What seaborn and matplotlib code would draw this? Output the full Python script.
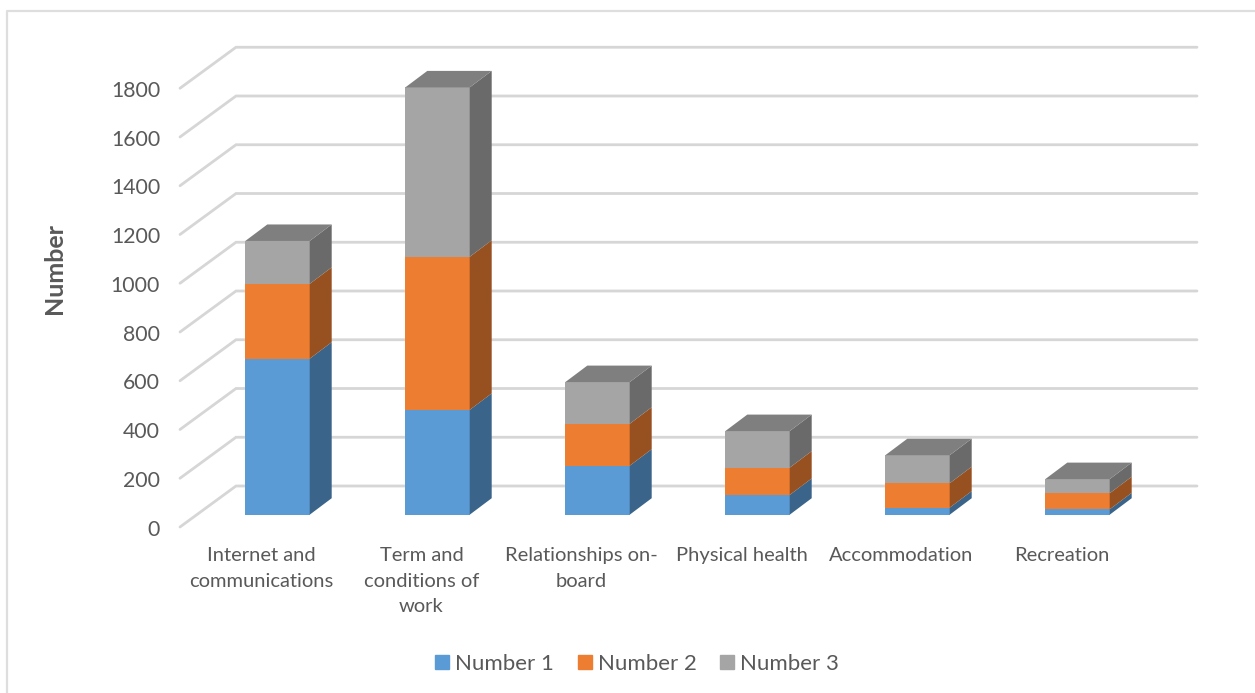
import seaborn as sns
import matplotlib.pyplot as plt
import matplotlib.transforms as mtrans
from matplotlib.lines import Line2D
from matplotlib.patches import Patch
import pandas as pd

categories = ['Internet and\ncommunications', 'Term and\nconditions of\nwork', 'Relationships on-\nboard',
              'Physical health', 'Accommodation', 'Recreation']
number1 = [640, 430, 201, 81, 29, 22]
number2 = [307, 628, 172, 112, 100, 66]
number3 = [176, 695, 171, 150, 115, 58]
yticks = [0, 200, 400, 600, 800, 1000, 1200, 1400, 1600, 1800]

# pixel scale of the picture
W, H = 1255, 693
PX_CAT = 160.0
PX_VAL = 0.24375
X0, Y0 = 277.5, 514.7

sns.set_theme(style='white')
plt.rcParams['font.family'] = ['Lato', 'DejaVu Sans']

df = pd.DataFrame({'cat': categories, 'Number 1': number1, 'Number 2': number2, 'Number 3': number3})
names = ['Number 1', 'Number 2', 'Number 3']
front = ['#5B9BD5', '#ED7D31', '#A5A5A5']
side = ['#3A6489', '#97501F', '#6A6A6A']
top = '#7F7F7F'
grey = '#595959'

fig = plt.figure(figsize=(W / 100, H / 100), dpi=100)
ax = fig.add_axes([0, 0, 1, 1])

# depth of the bars and of the walls, in data units
bar_dx, bar_dy = 22 / PX_CAT, 16.5 / PX_VAL
wall_dx, wall_dy = 56 / PX_CAT, 41 / PX_VAL
left = (180 - X0) / PX_CAT
right = (1197 - X0) / PX_CAT
floor = -12.3 / PX_VAL
width = 64.4 / PX_CAT

for v in yticks:
    ax.plot([left, left + wall_dx, right], [v + floor, v + floor + wall_dy, v + floor + wall_dy],
            color='#D6D6D6', lw=2, zorder=1, solid_capstyle='round', solid_joinstyle='miter')

bottom = df[names[0]] * 0
for n, name in enumerate(names):
    sns.barplot(data=df, x='cat', y=name, bottom=bottom, width=width, color=front[n], saturation=1,
                ax=ax, zorder=3, linewidth=0, errorbar=None)
    for i in range(len(df)):
        x1 = i + width / 2
        lo, hi = bottom[i], bottom[i] + df[name][i]
        ax.fill([x1, x1 + bar_dx, x1 + bar_dx, x1], [lo, lo + bar_dy, hi + bar_dy, hi],
                color=side[n], lw=0, zorder=3)
        if n == 2:
            x0 = i - width / 2
            ax.fill([x0, x1, x1 + bar_dx, x0 + bar_dx], [hi, hi, hi + bar_dy, hi + bar_dy],
                    color=top, lw=0, zorder=3)
    bottom = bottom + df[name]

ax.set_xlim(-X0 / PX_CAT, (W - X0) / PX_CAT)
ax.set_ylim((Y0 - H) / PX_VAL, Y0 / PX_VAL)
sns.despine(ax=ax, left=True, bottom=True)
ax.patch.set_visible(False)

ax.set_yticks(yticks)
ax.set_yticklabels([str(v) for v in yticks])
ax.set_xlabel('')
ax.set_ylabel('')
ax.tick_params(axis='y', length=0, labelsize=15.3, labelcolor=grey)
ax.tick_params(axis='x', length=0, labelsize=14.5, labelcolor=grey)

# the labels hang off the front edge, not off the bars
for lab in ax.get_yticklabels():
    lab.set_ha('right')
    lab.set_x(0)
    lab.set_transform(lab.get_transform() + mtrans.Affine2D().translate(165, -13))
for lab in ax.get_xticklabels():
    lab.set_va('top')
    lab.set_linespacing(1.62)
    lab.set_transform(lab.get_transform() + mtrans.Affine2D().translate(-16, -(542 - H)))

fig.text(54 / W, 1 - 269 / H, 'Number', rotation=90, ha='center', va='center',
         fontsize=18, fontweight='bold', color=grey)

handles = [Patch(color=front[n], label=names[n]) for n in range(3)]
fig.legend(handles=handles, loc='center', bbox_to_anchor=(637 / W, 1 - 664 / H), ncols=3, frameon=False,
           fontsize=16, labelcolor=grey, handlelength=0.63, handleheight=0.63,
           handletextpad=0.27, columnspacing=1.05)

# outer frame only shows on the left and on top
fig.add_artist(Line2D([7 / W, 7 / W, 1], [0, 1 - 11 / H, 1 - 11 / H], transform=fig.transFigure,
                      color='#DEDEDE', lw=1.6))

fig.savefig('out.png', dpi=100)
